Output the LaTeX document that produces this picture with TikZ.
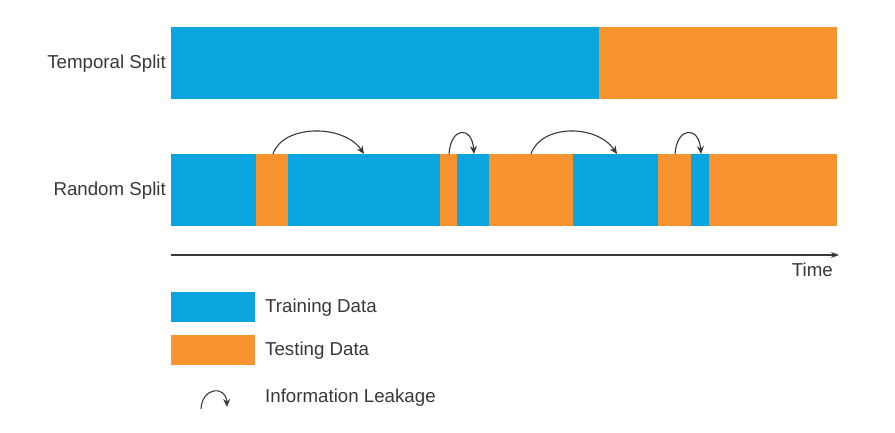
\documentclass[tikz,border=0pt]{standalone}
\usepackage{fontspec}
\setmainfont{Liberation Sans}
\usetikzlibrary{arrows.meta}
\definecolor{trainblue}{HTML}{0AA5DE}
\definecolor{testorange}{HTML}{F7942F}
\definecolor{ink}{HTML}{383838}
\begin{document}
\begin{tikzpicture}[
		x=1pt, y=-1pt,
		seg/.style={rectangle, inner sep=0pt, outer sep=0pt, minimum height=72pt, anchor=north west},
		key/.style={rectangle, inner sep=0pt, outer sep=0pt, minimum width=84pt, minimum height=30pt, anchor=north west},
		lbl/.style={text=ink, font=\fontsize{18.7}{22}\selectfont, inner sep=0pt},
		leak/.style={draw=ink, line width=1.1pt, -{Stealth[length=8pt,width=7pt]}},
		timeline/.style={draw=ink, line width=1.1pt, -{Stealth[length=8pt,width=6pt]}}
	]
		\useasboundingbox (0,0) rectangle (895,432);
		\node[seg, fill=trainblue, minimum width=428pt] (t1) at (171,27) {};
		\node[seg, fill=testorange, minimum width=238pt] (t2) at (599,27) {};
		\node[lbl, anchor=east] (temporal) at ([xshift=-5pt,yshift=-1pt]t1.west) {Temporal Split};
		\foreach \a/\b/\c [count=\i] in {171/256/trainblue, 256/288/testorange, 288/440/trainblue,
			440/457/testorange, 457/489/trainblue, 489/573/testorange, 573/658/trainblue,
			658/691/testorange, 691/709/trainblue, 709/837/testorange}
			\node[seg, fill=\c, minimum width=(\b-\a)*1pt] (r\i) at (\a,154) {};
		\node[lbl, anchor=east] (random) at ([xshift=-5pt,yshift=-1pt]r1.west) {Random Split};
		\coordinate (k1a) at (273,154);
		\coordinate (k1b) at (364,154);
		\coordinate (k2a) at (449,154);
		\coordinate (k2b) at (474,154);
		\coordinate (k3a) at (531,154);
		\coordinate (k3b) at (617,154);
		\coordinate (k4a) at (675,154);
		\coordinate (k4b) at (701,154);
		\draw[leak] (k1a) .. controls +(10,-30) and +(-20,-30) .. (k1b);
		\draw[leak] (k2a) .. controls +(2,-28) and +(-2,-28) .. (k2b);
		\draw[leak] (k3a) .. controls +(10,-30) and +(-20,-30) .. (k3b);
		\draw[leak] (k4a) .. controls +(2,-28) and +(-2,-28) .. (k4b);
		\coordinate (t0) at (171,255);
		\coordinate (tend) at (839,255);
		\draw[timeline] (t0) -- (tend);
		\node[lbl, anchor=north east] (time) at ([xshift=-6pt,yshift=-8pt]tend) {Time};
		\node[key, fill=trainblue] (train) at (171,292) {};
		\node[lbl, anchor=west] (trainlbl) at ([xshift=10pt,yshift=-1pt]train.east) {Training Data};
		\node[key, fill=testorange] (test) at (171,335) {};
		\node[lbl, anchor=west] (testlbl) at ([xshift=10pt,yshift=-1pt]test.east) {Testing Data};
		\coordinate (kla) at (201,409);
		\coordinate (klb) at (227,407);
		\draw[leak] (kla) .. controls +(1,-22) and +(-1,-22) .. (klb);
		\node[lbl, anchor=west] (leaklbl) at (265,398) {Information Leakage};
	\end{tikzpicture}
\end{document}
